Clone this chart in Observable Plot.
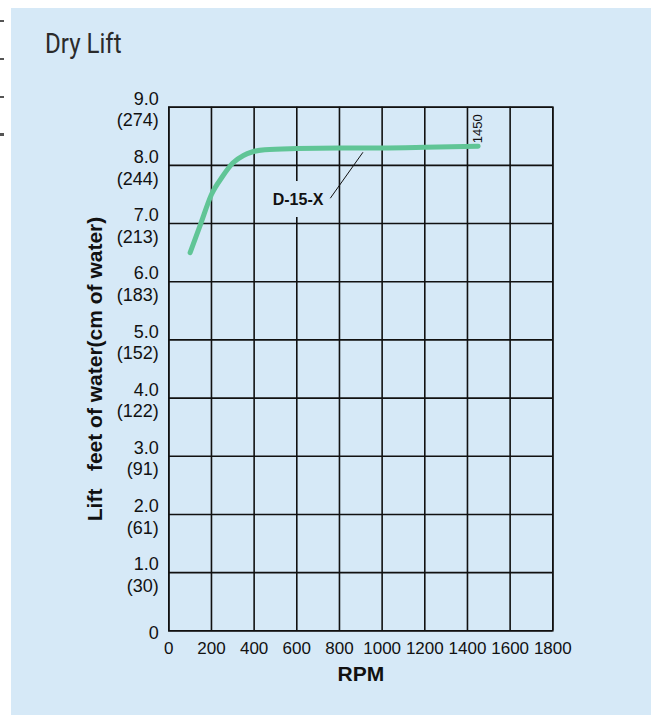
<!DOCTYPE html>
<html>
<head>
<meta charset="utf-8">
<script src="https://cdn.jsdelivr.net/npm/d3@7"></script>
<script src="https://cdn.jsdelivr.net/npm/@observablehq/plot@0.6"></script>
<style>
  html, body { margin: 0; padding: 0; background: #ffffff; }
  body { width: 654px; height: 715px; position: relative; overflow: hidden; }
  #panel { position: absolute; left: 11px; top: 8px; width: 640px; height: 707px; background: #d6e9f7; }
  #title { position: absolute; left: 34px; top: 21.6px; font-family: Roboto, "Noto Sans", sans-serif;
           font-size: 27.5px; line-height: 1; color: #2b2b2b; transform: scaleX(0.875); transform-origin: left top; white-space: nowrap; }
  #chart { position: absolute; left: 0; top: 62px; }
  .mark { position: absolute; left: 0; width: 4px; background: #555; }
</style>
</head>
<body>
<div class="mark" style="top:20px;height:1.5px"></div>
<div class="mark" style="top:58px;height:1.5px"></div>
<div class="mark" style="top:96px;height:1.5px"></div>
<div class="mark" style="top:133px;height:2.5px"></div>
<div id="panel">
  <div id="title">Dry Lift</div>
  <div id="chart"></div>
</div>
<script>
// ---- data ----
const rpm  = [100, 150, 200, 250, 300, 350, 390, 450, 600, 800, 1000, 1200, 1450];
const lift = [6.5, 7.0, 7.5, 7.8, 8.04, 8.17, 8.23, 8.27, 8.29, 8.30, 8.30, 8.31, 8.33];

const xTicks = [0, 200, 400, 600, 800, 1000, 1200, 1400, 1600, 1800];
const yTicks = [0, 1, 2, 3, 4, 5, 6, 7, 8, 9];
const yLabels = ["0", "1.0\n(30)", "2.0\n(61)", "3.0\n(91)", "4.0\n(122)", "5.0\n(152)",
                 "6.0\n(183)", "7.0\n(213)", "8.0\n(244)", "9.0\n(274)"];

const seriesName = "D-15-X";
const labelRpm = [606];
const labelLift = [7.41];
const leaderRpm = [758, 909];
const leaderLift = [7.44, 8.22];

const xTitle = "RPM";
const yTitle = "Lift\u00a0\u00a0\u00a0feet of water(cm of water)";

// ---- build ----
const bg = "#d6e9f7";
const ink = "#111111";
const lineColor = "#60c596";

const data = rpm.map((r, i) => ({rpm: r, lift: lift[i]}));
const labelData = labelRpm.map((r, i) => ({rpm: r, lift: labelLift[i], text: seriesName}));
const leaderData = leaderRpm.map((r, i) => ({rpm: r, lift: leaderLift[i]}));
const yLabelMap = new Map(yTicks.map((t, i) => [t, yLabels[i]]));
const last = data[data.length - 1];

const chart = Plot.plot({
  width: 640,
  height: 645,
  marginLeft: 157.3,
  marginRight: 98.7,
  marginTop: 36.7,
  marginBottom: 84.7,
  style: {background: "transparent", fontFamily: "'Liberation Sans', Arial, sans-serif", color: ink, overflow: "visible"},
  x: {domain: [0, 1800]},
  y: {domain: [0, 9]},
  marks: [
    Plot.gridX(xTicks, {stroke: ink, strokeOpacity: 1, strokeWidth: 1.6}),
    Plot.gridY(yTicks, {stroke: ink, strokeOpacity: 1, strokeWidth: 1.6}),
    Plot.frame({stroke: ink, strokeWidth: 1.6}),
    Plot.axisX(xTicks, {tickSize: 0, tickPadding: 11, fontSize: 17, tickFormat: d => String(d), label: null, fill: ink}),
    Plot.axisY(yTicks, {tickSize: 0, tickPadding: 10, fontSize: 18, lineHeight: 1.2, dy: 1.5, tickFormat: d => yLabelMap.get(d), label: null, fill: ink}),
    Plot.text(labelData, {x: "rpm", y: "lift", text: "text", fontSize: 16, fontWeight: "bold", fill: ink,
                          stroke: bg, strokeWidth: 24, strokeLinejoin: "round"}),
    Plot.line(leaderData, {x: "rpm", y: "lift", stroke: ink, strokeWidth: 1}),
    Plot.line(data, {x: "rpm", y: "lift", stroke: lineColor, strokeWidth: 5, curve: "monotone-x"}),
    Plot.text([last], {x: "rpm", y: "lift", text: d => String(d.rpm), rotate: -90, textAnchor: "start",
                       fontSize: 13, dx: 0, dy: -3, fill: ink}),
    Plot.text([yTitle], {frameAnchor: "left", textAnchor: "middle", dx: -73.3, rotate: -90, fontSize: 21, fontWeight: "bold", fill: ink}),
    Plot.text([xTitle], {frameAnchor: "bottom", dy: 50, fontSize: 21, fontWeight: "bold", fill: ink})
  ]
});
document.getElementById("chart").appendChild(chart);
</script>
</body>
</html>
